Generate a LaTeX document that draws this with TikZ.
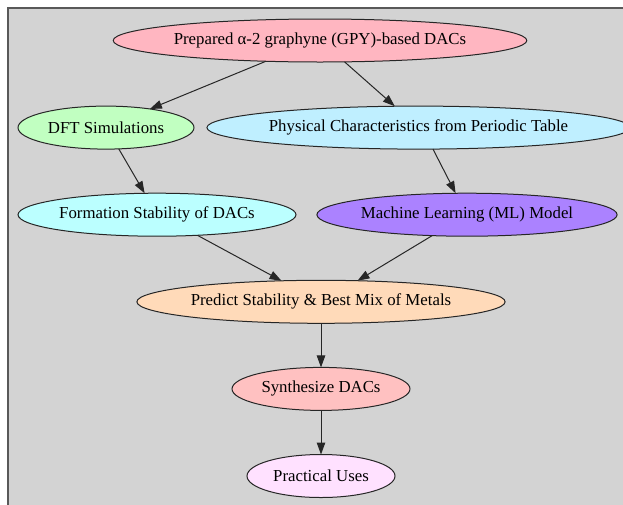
\documentclass[tikz,border=0pt]{standalone}
\usepackage{fontspec}
\setmainfont{Liberation Serif}
\usetikzlibrary{shapes.geometric,arrows.meta}
\definecolor{bggray}{HTML}{D3D3D3}
\definecolor{cPrep}{HTML}{FFB6C1}
\definecolor{cDFT}{HTML}{C1FFC1}
\definecolor{cPhys}{HTML}{BFEFFF}
\definecolor{cForm}{HTML}{BBFFFF}
\definecolor{cML}{HTML}{AB82FF}
\definecolor{cPred}{HTML}{FFDAB9}
\definecolor{cSyn}{HTML}{FFC1C1}
\definecolor{cUse}{HTML}{FFE1FF}
\tikzset{
  el/.style={ellipse, draw=black!85, line width=1pt, inner sep=0pt, outer sep=0pt,
    minimum height=43pt, font=\fontsize{16.8}{20}\selectfont, text=black},
  edge/.style={draw=black!85, line width=1pt, -{Triangle[length=12pt,width=8.5pt]}}
}
\begin{document}
\begin{tikzpicture}[x=1pt,y=-1pt]
\useasboundingbox (0,0) rectangle (623,504);
\fill[bggray] (8,8) rectangle (660,540);
\draw[black!65, line width=1.5pt] (8,540) -- (8,8) -- (660,8);
\node[el, fill=cPrep, minimum width=405pt] (n1) at (320,40.5) {Prepared α-2 graphyne (GPY)-based DACs};
\node[el, fill=cDFT, minimum width=176pt] (n2) at (106,127.6) {DFT Simulations};
\node[el, fill=cPhys, minimum width=407pt] (n3) at (418.5,127.6) {Physical Characteristics from Periodic Table};
\node[el, fill=cForm, minimum width=278pt] (n4) at (157,214.7) {Formation Stability of DACs};
\node[el, fill=cML, minimum width=300pt] (n5) at (467,214.7) {Machine Learning (ML) Model};
\node[el, fill=cPred, minimum width=362pt] (n6) at (321,301.8) {Predict Stability \& Best Mix of Metals};
\node[el, fill=cSyn, minimum width=178pt] (n7) at (321,388.9) {Synthesize DACs};
\node[el, fill=cUse, minimum width=148pt] (n8) at (321,476) {Practical Uses};
\draw[edge] (n1.201) -- (n2.23);
\draw[edge] (n1.319.3) -- (n3.138.8);
\draw[edge] (n2.301.3) -- (n4.120.9);
\draw[edge] (n3.304.1) -- (n5.118.9);
\draw[edge] (n4.333.1) -- (n6.152);
\draw[edge] (n5.211.3) -- (n6.30.5);
\draw[edge] (n6.south) -- (n7.north);
\draw[edge] (n7.south) -- (n8.north);
\end{tikzpicture}
\end{document}
